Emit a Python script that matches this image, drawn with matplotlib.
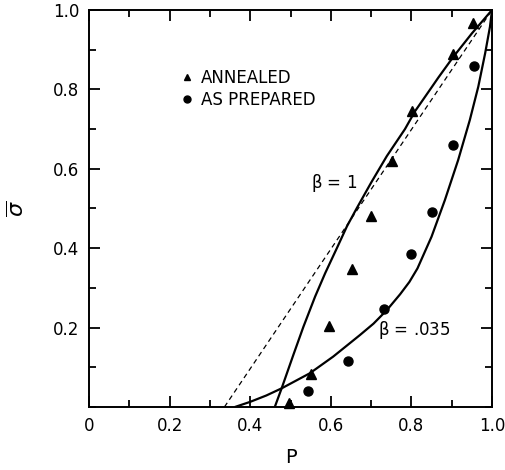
import numpy as np
import matplotlib
matplotlib.use("Agg")
import matplotlib.pyplot as plt
from matplotlib.lines import Line2D
from matplotlib.ticker import MultipleLocator, FixedLocator

# ---------------------------------------------------------------
# Datos
# ---------------------------------------------------------------
# puntos experimentales
p_annealed = [0.496, 0.550, 0.595, 0.653, 0.699, 0.751, 0.802, 0.902, 0.954]
s_annealed = [0.010, 0.083, 0.204, 0.348, 0.481, 0.620, 0.746, 0.888, 0.966]

p_prepared = [0.543, 0.643, 0.732, 0.799, 0.850, 0.902, 0.955]
s_prepared = [0.040, 0.117, 0.247, 0.385, 0.490, 0.659, 0.860]

# curva teorica beta = 1
p_beta1 = [0.461, 0.478, 0.507, 0.532, 0.561, 0.586, 0.615, 0.640, 0.664,
           0.700, 0.739, 0.784, 0.809, 0.850, 0.867, 0.904, 0.950, 1.000]
s_beta1 = [0.000, 0.047, 0.131, 0.202, 0.278, 0.337, 0.400, 0.455, 0.500,
           0.565, 0.632, 0.700, 0.745, 0.805, 0.830, 0.882, 0.941, 1.000]

# curva teorica beta = .035
p_beta035 = [0.362, 0.400, 0.440, 0.478, 0.548, 0.606, 0.672, 0.706, 0.739,
             0.772, 0.795, 0.815, 0.850, 0.883, 0.916, 0.945, 0.966, 0.983,
             0.995, 1.000]
s_beta035 = [0.000, 0.013, 0.029, 0.047, 0.085, 0.127, 0.181, 0.210, 0.244,
             0.284, 0.315, 0.349, 0.429, 0.521, 0.622, 0.723, 0.807, 0.891,
             0.958, 1.000]

# recta de referencia (discontinua)
p_dash = [0.336, 1.0]
s_dash = [0.0, 1.0]

x_ticks = [0, 0.2, 0.4, 0.6, 0.8, 1.0]
x_ticklabels = ["0", "0.2", "0.4", "0.6", "0.8", "1.0"]
y_ticks = [0.2, 0.4, 0.6, 0.8, 1.0]
y_ticklabels = ["0.2", "0.4", "0.6", "0.8", "1.0"]

# ---------------------------------------------------------------
# Figura
# ---------------------------------------------------------------
plt.rcParams['font.family'] = ['DejaVu Sans']

fig = plt.figure(figsize=(5.05, 4.70), dpi=100)
ax = fig.add_axes([89 / 505, 63 / 470, 403 / 505, 397 / 470])

ax.plot(p_dash, s_dash, color='black', lw=0.9, linestyle=(0, (4, 3)))
ax.plot(p_beta1, s_beta1, color='black', lw=1.6, solid_capstyle='butt')
ax.plot(p_beta035, s_beta035, color='black', lw=1.6, solid_capstyle='butt')

ax.plot(p_annealed, s_annealed, linestyle='none', marker='^', ms=7.5,
        color='black', clip_on=False)
ax.plot(p_prepared, s_prepared, linestyle='none', marker='o', ms=6.5,
        color='black', clip_on=False)

# leyenda
handles = [Line2D([], [], linestyle='none', marker='^', ms=5, color='black'),
           Line2D([], [], linestyle='none', marker='o', ms=5, color='black')]
ax.legend(handles, ['ANNEALED', 'AS PREPARED'], loc='upper left',
          bbox_to_anchor=(0.231, 0.851), frameon=False, fontsize=12,
          handlelength=0.6, handletextpad=0.55, borderpad=0,
          borderaxespad=0, labelspacing=0.22)

# etiquetas de las curvas
ax.text(0.551, 0.564, r'$\mathregular{\beta}$ = 1', fontsize=12, va='center')
ax.text(0.717, 0.194, r'$\mathregular{\beta}$ = .035', fontsize=12, va='center')

# ejes
ax.set_xlim(0, 1)
ax.set_ylim(0, 1)
ax.xaxis.set_major_locator(FixedLocator(x_ticks))
ax.set_xticklabels(x_ticklabels)
ax.xaxis.set_minor_locator(MultipleLocator(0.1))
ax.yaxis.set_major_locator(FixedLocator(y_ticks))
ax.set_yticklabels(y_ticklabels)
ax.yaxis.set_minor_locator(MultipleLocator(0.1))

ax.tick_params(which='both', direction='in', top=True, right=True,
               width=1.3, labelsize=12)
ax.tick_params(which='major', length=8, pad=7)
ax.tick_params(which='minor', length=5)
for sp in ax.spines.values():
    sp.set_linewidth(1.4)

ax.set_xlabel('P', fontsize=14, labelpad=9.5)
ax.set_ylabel(r'$\overline{\sigma}$', fontsize=16, labelpad=18)

fig.savefig('out.png', dpi=100)
